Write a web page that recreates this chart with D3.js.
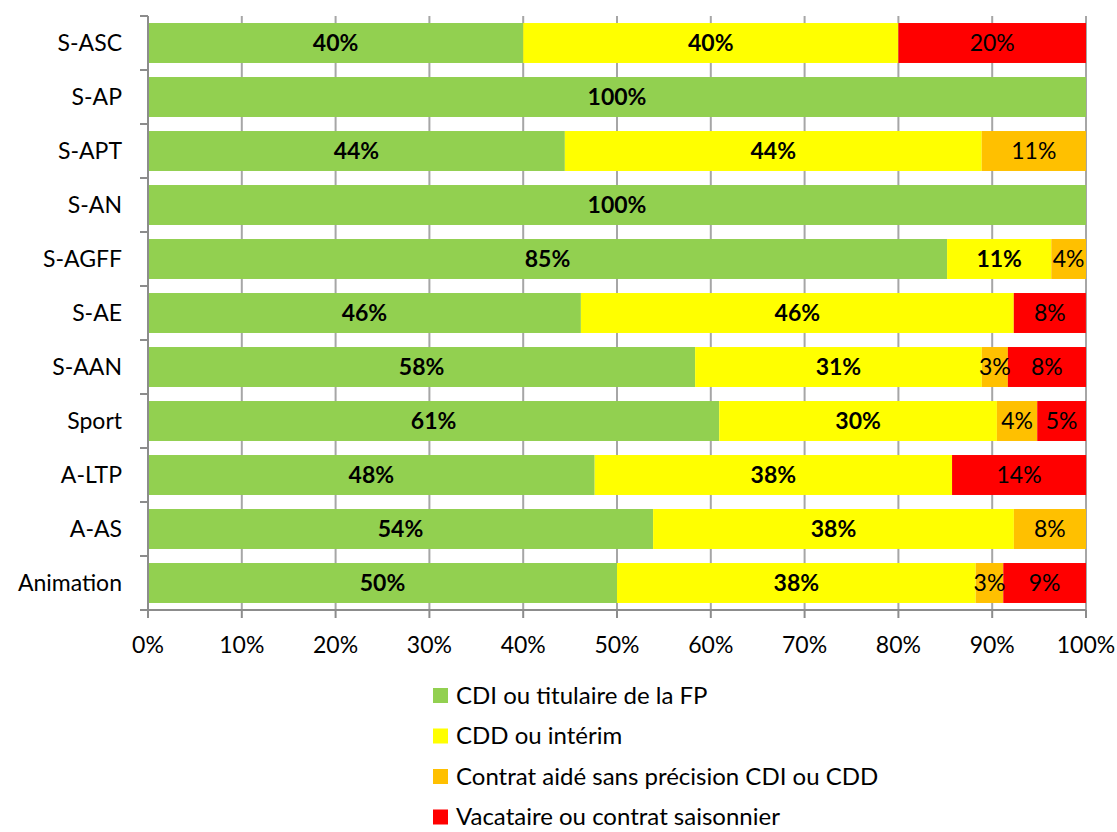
<!DOCTYPE html>
<html><head><meta charset="utf-8">
<script src="https://cdn.jsdelivr.net/npm/d3@7"></script>
<style>body{margin:0;background:#fff}svg{display:block;font-family:Lato,"Open Sans",sans-serif}</style>
</head><body><svg id="c" width="1117" height="832"></svg>
<script>
const categories = ["S-ASC","S-AP","S-APT","S-AN","S-AGFF","S-AE","S-AAN","Sport","A-LTP","A-AS","Animation"];
const seriesNames = ["CDI ou titulaire de la FP","CDD ou intérim","Contrat aidé sans précision CDI ou CDD","Vacataire ou contrat saisonnier"];
const cdi = [40, 100, 44.44, 100, 85.19, 46.15, 58.33, 60.9, 47.62, 53.85, 50];
const cdd = [40, 0, 44.44, 0, 11.11, 46.15, 30.56, 29.6, 38.1, 38.46, 38.24];
const aide = [0, 0, 11.11, 0, 3.7, 0, 2.78, 4.3, 0, 7.69, 2.94];
const vac = [20, 0, 0, 0, 0, 7.69, 8.33, 5.2, 14.29, 0, 8.82];
const xTicks = [0,10,20,30,40,50,60,70,80,90,100];
const colors = ["#92D050","#FFFF00","#FFC000","#FF0000"];
const boldLabel = [true,true,false,false];

const svg = d3.select("#c");
const m = {l:148, r:1086, t:16, b:610};
const x = d3.scaleLinear().domain([0,100]).range([m.l,m.r]);
const y = d3.scaleBand().domain(categories).range([m.t,m.b]).paddingInner(0.26).paddingOuter(0.13);
const fs = 23;

svg.append("g").selectAll("line").data(xTicks.slice(1)).join("line")
  .attr("x1",d=>x(d)).attr("x2",d=>x(d)).attr("y1",m.t).attr("y2",m.b)
  .attr("stroke","#A6A6A6").attr("stroke-width",2);

const rows = categories.map((c,i)=>({cat:c, vals:[cdi[i],cdd[i],aide[i],vac[i]]}));
const stack = d3.stack().keys([0,1,2,3]).value((d,k)=>d.vals[k]);
const series = stack(rows);

const g = svg.append("g");
series.forEach((s,si)=>{
  g.selectAll(null).data(s).join("rect")
    .attr("x",d=>x(d[0])).attr("width",d=>Math.max(0,x(d[1])-x(d[0])))
    .attr("y",d=>y(d.data.cat)).attr("height",y.bandwidth())
    .attr("fill",colors[si]);
});
series.forEach((s,si)=>{
  g.selectAll(null).data(s.filter(d=>d[1]-d[0]>0)).join("text")
    .attr("x",d=>(x(d[0])+x(d[1]))/2).attr("y",d=>y(d.data.cat)+y.bandwidth()/2)
    .attr("dy","0.36em").attr("text-anchor","middle")
    .attr("font-size",fs).attr("font-weight",boldLabel[si]?"bold":"normal")
    .attr("fill","#000").text(d=>Math.round(d[1]-d[0])+"%");
});

const axC = "#8C8C8C";
svg.append("line").attr("x1",m.l).attr("x2",m.l).attr("y1",m.t).attr("y2",m.b+8).attr("stroke",axC).attr("stroke-width",2);
svg.append("line").attr("x1",m.l-8).attr("x2",m.r).attr("y1",m.b).attr("y2",m.b).attr("stroke",axC).attr("stroke-width",2);
const bounds = categories.map(c=>y(c)-y.step()*y.paddingInner()/2).concat([m.b]);
svg.append("g").selectAll("line").data(bounds).join("line")
  .attr("x1",m.l-8).attr("x2",m.l).attr("y1",d=>d).attr("y2",d=>d).attr("stroke",axC).attr("stroke-width",2);
svg.append("g").selectAll("line").data(xTicks).join("line")
  .attr("x1",d=>x(d)).attr("x2",d=>x(d)).attr("y1",m.b).attr("y2",m.b+8).attr("stroke",axC).attr("stroke-width",2);
svg.append("g").selectAll("text").data(categories).join("text")
  .attr("x",122).attr("y",d=>y(d)+y.bandwidth()/2).attr("dy","0.36em")
  .attr("text-anchor","end").attr("font-size",fs).attr("fill","#000").text(d=>d);
svg.append("g").selectAll("text").data(xTicks).join("text")
  .attr("x",d=>x(d)).attr("y",645).attr("dy","0.36em")
  .attr("text-anchor","middle").attr("font-size",fs).attr("fill","#000").text(d=>d+"%");

const lg = svg.append("g");
seriesNames.forEach((n,i)=>{
  const yy = 695 + i*40.5;
  lg.append("rect").attr("x",433).attr("y",yy-7).attr("width",15).attr("height",15).attr("fill",colors[i]);
  lg.append("text").attr("x",456).attr("y",yy).attr("dy","0.36em").attr("font-size",24).attr("fill","#000").text(n);
});
</script></body></html>
